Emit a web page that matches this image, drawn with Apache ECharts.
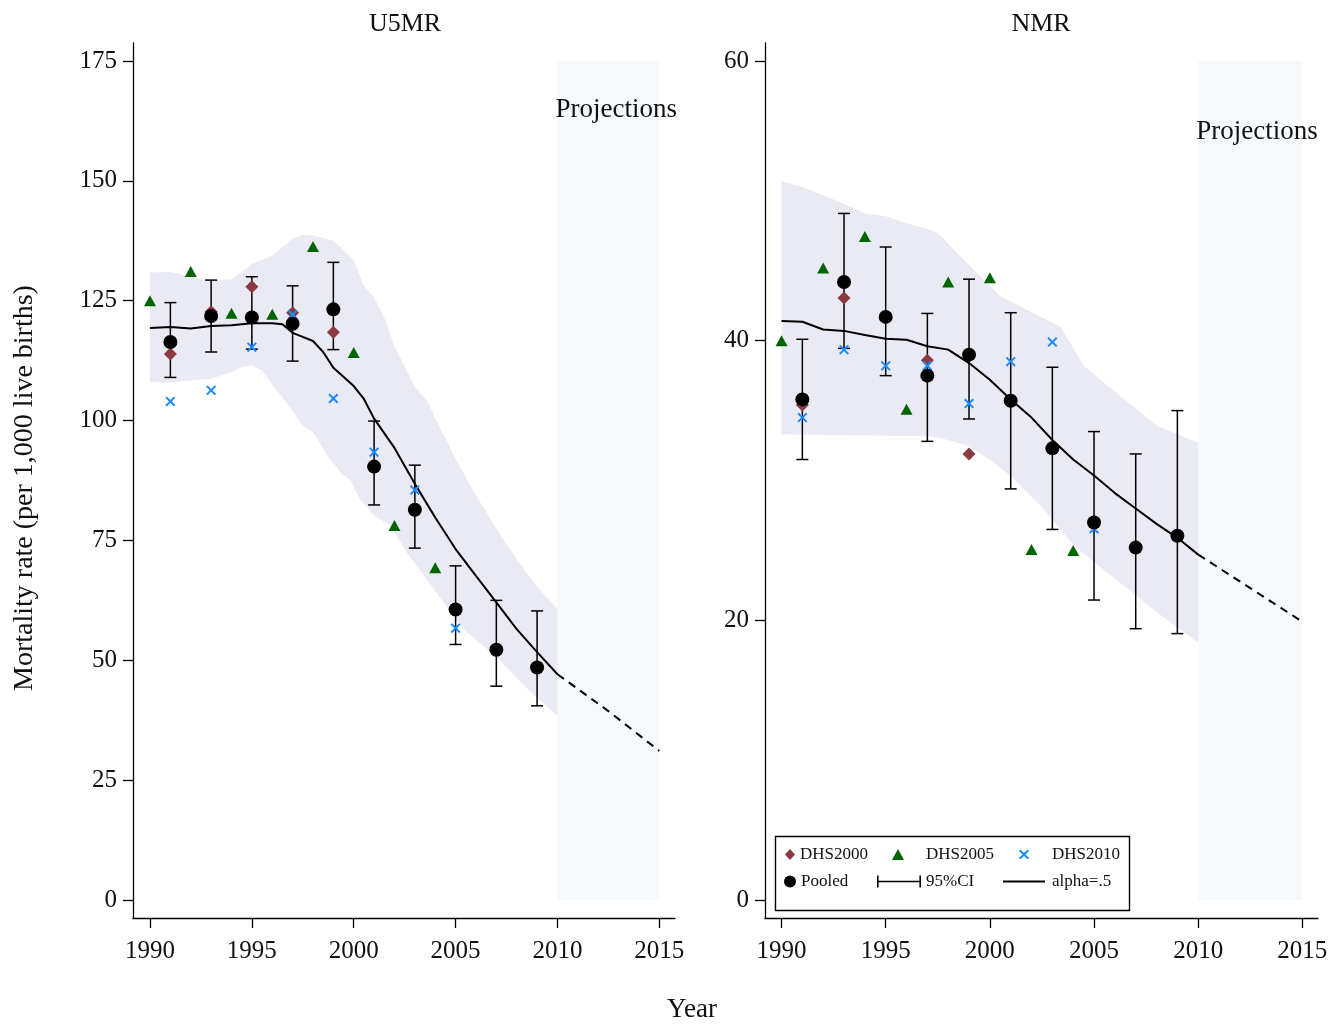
<!DOCTYPE html>
<html>
<head>
<meta charset="utf-8">
<script src="https://cdn.jsdelivr.net/npm/echarts@6/dist/echarts.min.js"></script>
<style>html,body{margin:0;padding:0;background:#fff;}#c{width:1341px;height:1024px;}</style>
</head>
<body>
<div id="c"></div>
<script>
// ---------- DATA ----------
const xTicks = [1990, 1995, 2000, 2005, 2010, 2015];
const u5Ticks = [0, 25, 50, 75, 100, 125, 150, 175];
const nmrTicks = [0, 20, 40, 60];

// Pooled estimates with 95% CI
const pooledYears = [1991, 1993, 1995, 1997, 1999, 2001, 2003, 2005, 2007, 2009];
const u5Pooled = [116.4, 121.8, 121.5, 120.2, 123.2, 90.4, 81.4, 60.6, 52.2, 48.5];
const u5Lo     = [109.0, 114.3, 114.9, 112.4, 114.8, 82.4, 73.4, 53.3, 44.6, 40.5];
const u5Hi     = [124.6, 129.3, 130.0, 128.1, 133.0, 99.9, 90.7, 69.7, 62.5, 60.3];
const nmrPooled = [35.8, 44.2, 41.7, 37.5, 39.0, 35.7, 32.3, 27.0, 25.2, 26.05];
const nmrLo     = [31.5, 39.45, 37.5, 32.8, 34.4, 29.4, 26.5, 21.45, 19.4, 19.05];
const nmrHi     = [40.1, 49.1, 46.7, 41.95, 44.4, 42.0, 38.1, 33.5, 31.9, 35.0];

// DHS surveys
const dhs2000YearsU5 = [1991, 1993, 1995, 1997, 1999];
const dhs2000U5 = [113.9, 122.7, 127.9, 122.5, 118.4];
const dhs2000YearsNmr = [1991, 1993, 1997, 1999];
const dhs2000Nmr = [35.4, 43.05, 38.6, 31.9];

const dhs2005Years = [1990, 1992, 1994, 1996, 1998, 2000, 2002, 2004];
const dhs2005U5 = [125.0, 131.1, 122.4, 122.2, 136.3, 114.2, 78.1, 69.3];
const dhs2005Nmr = [40.0, 45.2, 47.45, 35.1, 44.2, 44.5, 25.07, 25.0];

const dhs2010Years = [1991, 1993, 1995, 1997, 1999, 2001, 2003, 2005];
const dhs2010U5 = [104.0, 106.3, 115.3, 122.1, 104.6, 93.4, 85.5, 56.7];
const dhs2010Nmr = [34.5, 39.36, 38.2, 38.2, 35.5, 38.5, 39.9, 26.55];

// Smoothed trend (alpha=.5)
const u5LineYears = [1990, 1991, 1992, 1993, 1994, 1995, 1996, 1996.5, 1997, 1998, 1998.5, 1999, 2000, 2000.5, 2001, 2002, 2003, 2004, 2005, 2006, 2007, 2008, 2009, 2010];
const u5Line = [119.3, 119.5, 119.2, 119.7, 119.9, 120.3, 120.3, 120.1, 118.3, 116.6, 114.3, 111.0, 107.2, 104.5, 100.4, 94.3, 86.8, 79.8, 73.2, 67.6, 62.1, 56.5, 51.7, 47.1];
const nmrLineYears = [1990, 1991, 1992, 1993, 1994, 1995, 1996, 1997, 1998, 1999, 2000, 2001, 2002, 2003, 2004, 2005, 2006, 2007, 2008, 2009, 2010];
const nmrLine = [41.4, 41.35, 40.8, 40.7, 40.4, 40.14, 40.07, 39.6, 39.36, 38.4, 37.2, 35.8, 34.5, 32.9, 31.5, 30.36, 29.1, 28.0, 26.9, 25.9, 24.7];

// Projections (dashed)
const projYears = [2010, 2012.5, 2015];
const u5Proj = [47.1, 39.4, 31.1];
const nmrProj = [24.7, 22.3, 19.9];

// Confidence band of the trend
const u5BandUpX = [1990, 1991, 1992, 1993, 1994, 1994.5, 1995, 1996, 1997, 1997.5, 1998, 1999, 2000, 2000.5, 2001, 2001.5, 2002, 2003, 2003.6, 2004, 2004.6, 2005, 2006, 2007, 2008, 2009, 2010];
const u5BandUp  = [130.9, 131.0, 130.0, 129.2, 129.5, 131.0, 132.7, 134.4, 137.9, 138.7, 138.6, 137.5, 133.4, 128.1, 125.6, 121.5, 115.5, 107.0, 104.2, 100.5, 95.5, 92.0, 84.4, 77.4, 71.0, 65.3, 60.7];
const u5BandLoX = [1990, 1991, 1992, 1993, 1994, 1994.5, 1995, 1995.5, 1996, 1997, 1997.5, 1998, 1998.7, 1999.35, 1999.85, 2000.3, 2001, 2001.8, 2002.6, 2003.8, 2005.4, 2007.1, 2008.7, 2010];
const u5BandLo  = [108.0, 108.0, 108.3, 108.7, 110.1, 111.1, 111.5, 110.5, 107.5, 102.0, 98.9, 97.6, 92.7, 89.2, 87.5, 83.6, 80.2, 78.1, 72.5, 65.6, 56.5, 50.3, 43.3, 38.5];
const nmrBandUpX = [1990, 1991, 1992, 1993, 1994, 1995, 1996, 1997, 1997.5, 1998.6, 2000.5, 2001.8, 2003.4, 2004.5, 2006.45, 2008.05, 2010];
const nmrBandUp  = [51.4, 51.0, 50.4, 49.8, 49.1, 48.9, 48.4, 48.0, 47.7, 46.0, 43.2, 42.2, 41.0, 38.2, 35.8, 33.9, 32.7];
const nmrBandLoX = [1990, 1995, 1997, 1998, 1999, 2000, 2001, 2002.45, 2004.05, 2006.45, 2008.05, 2010];
const nmrBandLo  = [33.3, 33.2, 33.2, 32.9, 32.45, 31.5, 30.3, 28.2, 25.3, 22.45, 20.55, 18.4];

// ---------- STYLE ----------
const FONT = '"Liberation Serif", "DejaVu Serif", serif';
const TXT = '#111';
const C2000 = '#8b3a40', C2005 = '#006400', C2010 = '#1a8cff';
const BAND = '#eaeaf5', PROJ = '#f6f9fb';
const XPATH = 'path://M1.4,0L5,3.6L8.6,0L10,1.4L6.4,5L10,8.6L8.6,10L5,6.4L1.4,10L0,8.6L3.6,5L0,1.4Z';
const CIPATH = 'path://M0,0h1.6v12h-1.6z M0,5.2h44v1.6h-44z M42.4,0h1.6v12h-1.6z';
const LINEPATH = 'path://M0,5.1h42v1.8h-42z M0,0h0.01v12h-0.01z';

const zip = (xs, ys) => xs.map((x, i) => [x, ys[i]]);
const zip3 = (xs, a, b) => xs.map((x, i) => [x, a[i], b[i]]);
const plain = v => String(v);

const chart = echarts.init(document.getElementById('c'), null, {renderer: 'canvas'});

function xAxisDef(idx, min, max) {
  return {
    type: 'value', gridIndex: idx, min: min, max: max,
    axisLine: {show: true, onZero: false, lineStyle: {color: '#000', width: 1.3}},
    axisTick: {show: true, length: 10, customValues: xTicks, lineStyle: {color: '#000', width: 1.3}},
    axisLabel: {customValues: xTicks, formatter: plain, margin: 21, fontFamily: FONT, fontSize: 25, color: TXT},
    splitLine: {show: false}
  };
}
function yAxisDef(idx, min, max, ticks) {
  return {
    type: 'value', gridIndex: idx, min: min, max: max,
    axisLine: {show: true, onZero: false, lineStyle: {color: '#000', width: 1.3}},
    axisTick: {show: true, length: 10, customValues: ticks, lineStyle: {color: '#000', width: 1.3}},
    axisLabel: {customValues: ticks, formatter: plain, margin: 16, fontFamily: FONT, fontSize: 25, color: TXT},
    splitLine: {show: false}
  };
}

function bandSeries(idx, upX, up, loX, lo) {
  return {
    type: 'custom', name: 'band' + idx, xAxisIndex: idx, yAxisIndex: idx, z: 1, silent: true,
    data: [[upX[0], up[0]]],
    encode: {x: 0, y: 1},
    renderItem: function (params, api) {
      const pts = [];
      for (let i = 0; i < upX.length; i++) pts.push(api.coord([upX[i], up[i]]));
      for (let i = loX.length - 1; i >= 0; i--) pts.push(api.coord([loX[i], lo[i]]));
      return {type: 'polygon', shape: {points: pts}, style: {fill: BAND}};
    }
  };
}

function ciSeries(idx, data) {
  return {
    type: 'custom', name: '95%CI', xAxisIndex: idx, yAxisIndex: idx, z: 3,
    itemStyle: {color: '#000'},
    data: data, encode: {x: 0, y: [1, 2]},
    renderItem: function (params, api) {
      const x = api.value(0);
      const top = api.coord([x, api.value(2)]);
      const bot = api.coord([x, api.value(1)]);
      const s = {stroke: '#000', lineWidth: 1.5, fill: null};
      const w = 6;
      return {type: 'group', children: [
        {type: 'line', shape: {x1: top[0], y1: top[1], x2: bot[0], y2: bot[1]}, style: s},
        {type: 'line', shape: {x1: top[0] - w, y1: top[1], x2: top[0] + w, y2: top[1]}, style: s},
        {type: 'line', shape: {x1: bot[0] - w, y1: bot[1], x2: bot[0] + w, y2: bot[1]}, style: s}
      ]};
    }
  };
}

function projSeries(idx, ymax, labelY) {
  return {
    type: 'line', name: 'projArea' + idx, xAxisIndex: idx, yAxisIndex: idx, z: 0, silent: true,
    data: [], symbol: 'none',
    markArea: {silent: true, itemStyle: {color: PROJ}, data: [[{xAxis: 2010, yAxis: 0}, {xAxis: 2015, yAxis: ymax}]]},
    markPoint: {
      silent: true, symbol: 'circle', symbolSize: 0,
      data: [{coord: [2010, labelY]}],
      label: {show: true, position: 'right', distance: -2, formatter: 'Projections', fontFamily: FONT, fontSize: 27, color: TXT}
    }
  };
}

function scatter(idx, name, xs, ys, symbol, size, color) {
  return {type: 'scatter', name: name, xAxisIndex: idx, yAxisIndex: idx, z: 4,
    symbol: symbol, symbolSize: size, itemStyle: {color: color, opacity: 1}, data: zip(xs, ys)};
}

function legend(name, icon, left, top, w, h, padLeft) {
  const d = {name: name};
  if (icon) d.icon = icon;
  return {
    data: [d], left: left, top: top, padding: 0, itemWidth: w, itemHeight: h, itemGap: 0,
    selectedMode: false,
    textStyle: {fontFamily: FONT, fontSize: 17, color: TXT, padding: [0, 0, 0, padLeft || 0]}
  };
}

const option = {
  backgroundColor: '#fff',
  animation: false,
  title: [
    {text: 'U5MR', left: 400, top: 6, textAlign: 'center', textStyle: {fontFamily: FONT, fontSize: 26, fontWeight: 'normal', color: TXT}},
    {text: 'NMR', left: 1036, top: 6, textAlign: 'center', textStyle: {fontFamily: FONT, fontSize: 26, fontWeight: 'normal', color: TXT}}
  ],
  grid: [
    {left: 133, top: 43, width: 542, height: 875},
    {left: 765, top: 43, width: 553, height: 875}
  ],
  xAxis: [xAxisDef(0, 1989.165, 2015.77), xAxisDef(1, 1989.207, 2015.75)],
  yAxis: [yAxisDef(0, -3.75, 178.75, u5Ticks), yAxisDef(1, -1.29, 61.29, nmrTicks)],
  legend: [
    legend('DHS2000', 'diamond', 785, 846, 10, 11),
    legend('DHS2005', 'triangle', 892, 846, 12, 11, 17),
    legend('DHS2010', XPATH, 1019, 846, 10, 10, 18),
    legend('Pooled', 'circle', 784, 873, 12, 12),
    legend('95%CI', CIPATH, 877, 873, 44, 12),
    legend('alpha=.5', LINEPATH, 1003, 873, 42, 12, 2)
  ],
  graphic: [
    {type: 'rect', left: 773, top: 834, shape: {width: 354, height: 74}, style: {fill: 'none', stroke: '#000', lineWidth: 1.4}, z: 10},
    {type: 'text', x: 25, y: 488, rotation: Math.PI / 2, style: {text: 'Mortality rate (per 1,000 live births)', fontFamily: FONT, fontSize: 28, fill: TXT, textAlign: 'center', textVerticalAlign: 'middle'}},
    {type: 'text', x: 692, y: 1010, style: {text: 'Year', fontFamily: FONT, fontSize: 27, fill: TXT, textAlign: 'center', textVerticalAlign: 'middle'}}
  ],
  series: [
    projSeries(0, 175, 164.8),
    projSeries(1, 60, 54.9),
    bandSeries(0, u5BandUpX, u5BandUp, u5BandLoX, u5BandLo),
    bandSeries(1, nmrBandUpX, nmrBandUp, nmrBandLoX, nmrBandLo),
    {type: 'line', name: 'alpha=.5', xAxisIndex: 0, yAxisIndex: 0, z: 3, symbol: 'none', showSymbol: false, lineStyle: {color: '#000', width: 2}, itemStyle: {color: '#000'}, data: zip(u5LineYears, u5Line)},
    {type: 'line', name: 'alpha=.5', xAxisIndex: 1, yAxisIndex: 1, z: 3, symbol: 'none', showSymbol: false, lineStyle: {color: '#000', width: 2}, itemStyle: {color: '#000'}, data: zip(nmrLineYears, nmrLine)},
    {type: 'line', name: 'projection', xAxisIndex: 0, yAxisIndex: 0, z: 3, symbol: 'none', lineStyle: {color: '#000', width: 2, type: [8, 6]}, data: zip(projYears, u5Proj)},
    {type: 'line', name: 'projection', xAxisIndex: 1, yAxisIndex: 1, z: 3, symbol: 'none', lineStyle: {color: '#000', width: 2, type: [8, 6]}, data: zip(projYears, nmrProj)},
    ciSeries(0, zip3(pooledYears, u5Lo, u5Hi)),
    ciSeries(1, zip3(pooledYears, nmrLo, nmrHi)),
    scatter(0, 'DHS2000', dhs2000YearsU5, dhs2000U5, 'diamond', 13, C2000),
    scatter(1, 'DHS2000', dhs2000YearsNmr, dhs2000Nmr, 'diamond', 13, C2000),
    scatter(0, 'DHS2005', dhs2005Years, dhs2005U5, 'triangle', [12, 11], C2005),
    scatter(1, 'DHS2005', dhs2005Years, dhs2005Nmr, 'triangle', [12, 11], C2005),
    scatter(0, 'DHS2010', dhs2010Years, dhs2010U5, XPATH, 10, C2010),
    scatter(1, 'DHS2010', dhs2010Years, dhs2010Nmr, XPATH, 10, C2010),
    scatter(0, 'Pooled', pooledYears, u5Pooled, 'circle', 14, '#000'),
    scatter(1, 'Pooled', pooledYears, nmrPooled, 'circle', 14, '#000')
  ]
};
chart.setOption(option);
</script>
</body>
</html>
